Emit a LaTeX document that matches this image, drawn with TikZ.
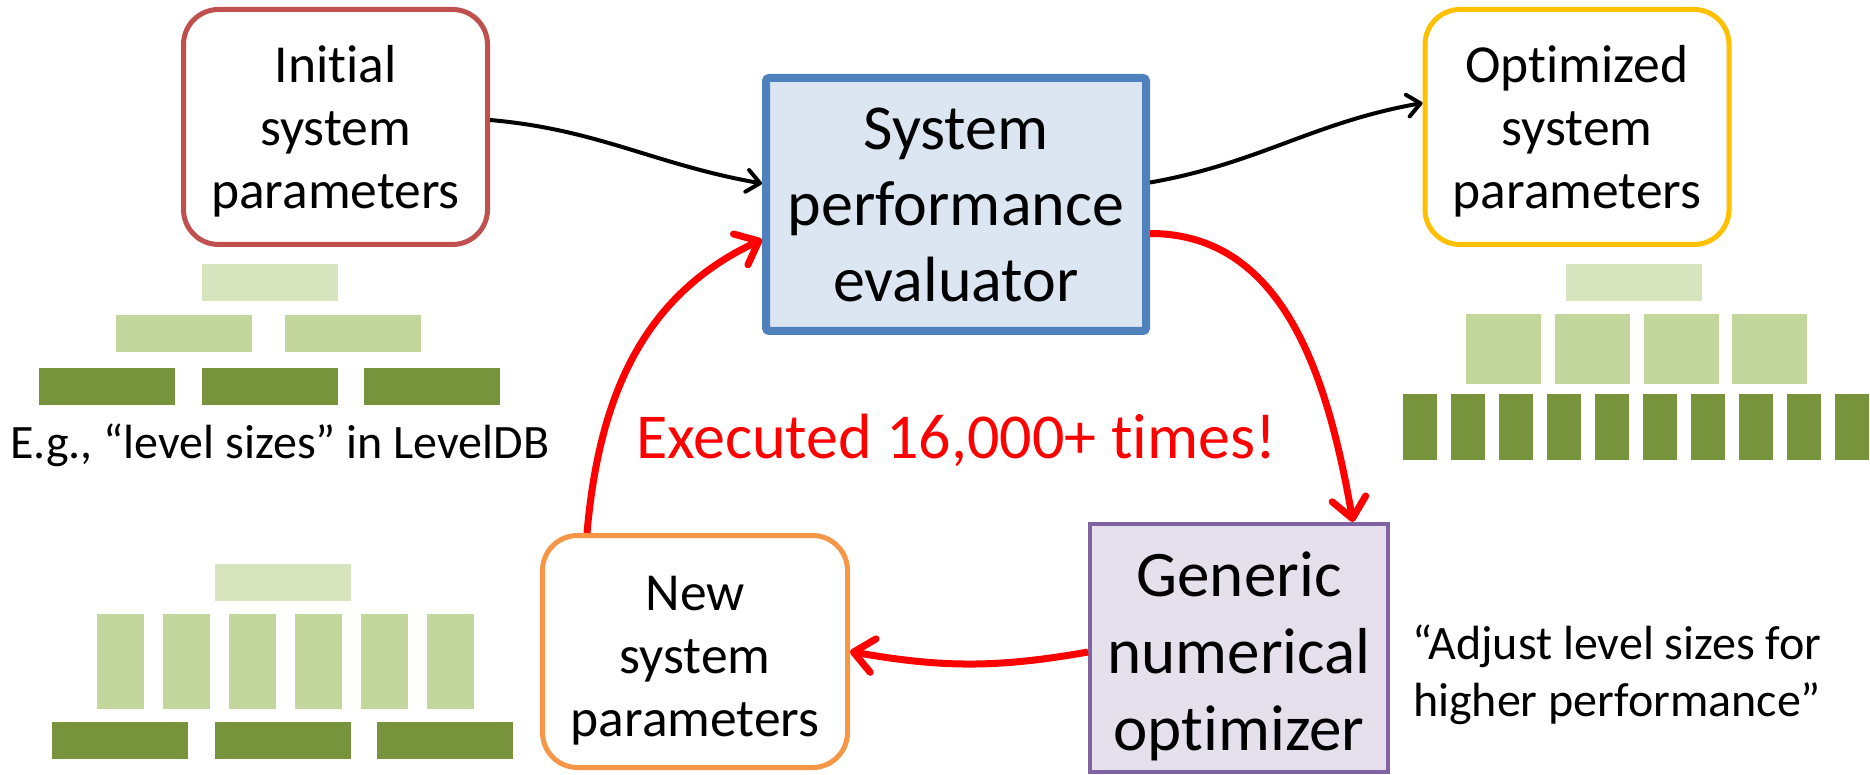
\documentclass[tikz,border=0pt]{standalone}
\usepackage{fontspec}
\setmainfont{Carlito}[Ligatures=CommonOff]
\usetikzlibrary{arrows.meta}

\definecolor{initred}{HTML}{C0504D}
\definecolor{optgold}{HTML}{FFC000}
\definecolor{neworange}{HTML}{F79646}
\definecolor{evalblue}{HTML}{4F81BD}
\definecolor{evalfill}{HTML}{DCE6F2}
\definecolor{genpurple}{HTML}{8064A2}
\definecolor{genfill}{HTML}{E5E0EC}
\definecolor{lvlone}{HTML}{D7E4BD}
\definecolor{lvltwo}{HTML}{C3D69B}
\definecolor{lvlthree}{HTML}{77933C}

\newcommand{\topgap}[1]{\rule{0pt}{#1}}

\begin{document}
\begin{tikzpicture}[x=1pt,y=-1pt,
		parambox/.style={draw, fill=white, line width=5pt, rounded corners=35pt, minimum width=304pt, minimum height=235pt, inner sep=0pt, align=center, font=\fontsize{53.5}{63}\selectfont},
		bigbox/.style={line width=#1, inner sep=0pt, align=center, font=\fontsize{65}{77}\selectfont},
		note/.style={inner sep=0pt, align=center, font=\fontsize{48}{57}\selectfont},
		blackarrow/.style={line width=4pt, -{Straight Barb[length=13pt,width=22pt,round]}},
		redarrow/.style={draw=red, line width=7pt, -{Straight Barb[length=20pt,width=34pt,round]}}]
	\useasboundingbox (0,0) rectangle (1870,775);
	\node[parambox, draw=initred] (init) at (335.5,127) {\topgap{46pt}Initial\\system\\parameters};
	\node[parambox, draw=optgold] (opt) at (1577,127) {\topgap{46pt}Optimized\\system\\parameters};
	\node[parambox, draw=neworange, minimum width=305pt, minimum height=232pt] (new) at (695,651.5) {\topgap{52pt}New\\system\\parameters};
	\node[bigbox=8pt, draw=evalblue, fill=evalfill, rounded corners=3pt, minimum width=380pt, minimum height=253pt, font=\fontsize{64}{76}\selectfont] (eval) at (956,204.5) {System\\performance\\evaluator};
	\node[bigbox=4pt, draw=genpurple, fill=genfill, minimum width=298pt, minimum height=248pt] (gen) at (1239,648) {\topgap{62pt}Generic\\numerical\\optimizer};
	\node[note, anchor=base west] (eg) at (10,458) {E.g., “level sizes” in LevelDB};
	\node[note] (adjust) at (1617,675) {“Adjust level sizes for\\higher performance”};
	\node[note, anchor=base, text=red, font=\fontsize{64}{76}\selectfont] (times) at (956,458) {Executed 16,000+ times!};

	\fill[lvlone] (202,264) rectangle ++(136,37);
	\foreach \x in {116,285} \fill[lvltwo] (\x,315) rectangle ++(136,37);
	\foreach \x in {39,202,364} \fill[lvlthree] (\x,368) rectangle ++(136,37);

	\fill[lvlone] (215,564) rectangle ++(136,37);
	\foreach \i in {0,...,5} \fill[lvltwo] ({97+66*\i},614) rectangle ++(47,95);
	\foreach \x in {52,215,377} \fill[lvlthree] (\x,722) rectangle ++(136,37);

	\fill[lvlone] (1566,264) rectangle ++(136,37);
	\foreach \x in {1466,1555,1644,1732} \fill[lvltwo] (\x,314) rectangle ++(75,70);
	\foreach \i in {0,...,9} \fill[lvlthree] ({1403+48*\i},394) rectangle ++(34,66);

	\draw[blackarrow] ([yshift=7pt]init.east) to[out=-5,in=170] ([yshift=21pt]eval.west);
	\draw[blackarrow] ([yshift=22pt]eval.east) to[out=10,in=190] ([yshift=24pt]opt.west);
	\draw[redarrow] ([yshift=-29pt]eval.east) to[out=0,in=100] ([xshift=114pt]gen.north);
	\draw[redarrow] ([yshift=-4pt]gen.west) to[out=190,in=-10] (new.east);
	\draw[redarrow] ([xshift=-108pt]new.north) to[out=85,in=205] ([yshift=-35pt]eval.west);
\end{tikzpicture}
\end{document}
